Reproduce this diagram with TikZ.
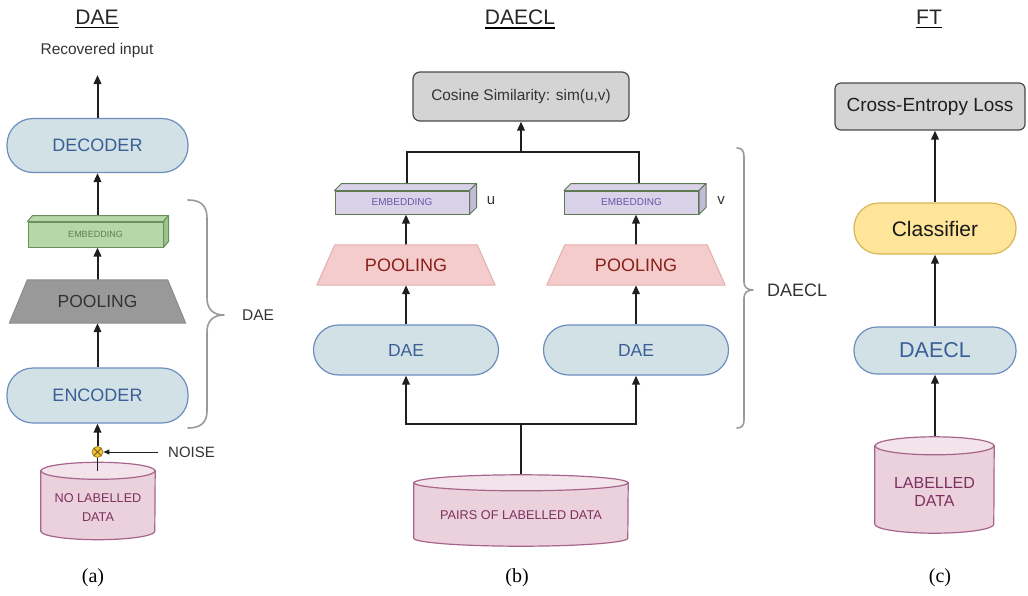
\documentclass[tikz,border=0pt]{standalone}
\usepackage{fontspec}
\setmainfont{Liberation Sans}
\newfontfamily\capfont{Liberation Serif}
\usetikzlibrary{arrows.meta,calc}
\pgfdeclarelayer{bg}
\pgfdeclarelayer{mid}
\pgfsetlayers{bg,mid,main}
\definecolor{arrowc}{HTML}{1F1F1F}
\definecolor{bluefill}{HTML}{D2E1E5}
\definecolor{blueborder}{HTML}{6C8EBF}
\definecolor{bluetext}{HTML}{3A5F96}
\definecolor{greenfill}{HTML}{B6D7A8}
\definecolor{greenside}{HTML}{9DC48C}
\definecolor{greenborder}{HTML}{6D8F5E}
\definecolor{greentext}{HTML}{5F7F52}
\definecolor{grayfill}{HTML}{999999}
\definecolor{grayborder}{HTML}{8C8C8C}
\definecolor{lavfill}{HTML}{D9D2E9}
\definecolor{lavside}{HTML}{C4BAD9}
\definecolor{lavborder}{HTML}{5E7A52}
\definecolor{lavtext}{HTML}{6757A6}
\definecolor{pinkfill}{HTML}{F4CCCC}
\definecolor{pinkborder}{HTML}{E2AFAF}
\definecolor{pinktext}{HTML}{8A1F1A}
\definecolor{cylfill}{HTML}{EAD1DC}
\definecolor{cyltop}{HTML}{F3E3EA}
\definecolor{cylborder}{HTML}{A8658B}
\definecolor{cyltext}{HTML}{7E3060}
\definecolor{boxfill}{HTML}{D4D4D4}
\definecolor{boxborder}{HTML}{4A4A4A}
\definecolor{yelfill}{HTML}{FFE599}
\definecolor{yelborder}{HTML}{D6B656}
\definecolor{txt}{HTML}{333333}
\definecolor{bracec}{HTML}{9A9A9A}
\definecolor{noisefill}{HTML}{F1C232}
\definecolor{noiseborder}{HTML}{A8862A}
\newcommand\fs[2]{\fontsize{#1}{#2}\selectfont}
% 3D faces of an embedding block: node, dx, dy, fill, side fill, border
\newcommand\threedfaces[6]{%
  \filldraw[fill=#4, draw=#6, line width=1pt, line join=round]
    (#1.north west) -- ++(#2,-#3) -- ($(#1.north east)+(#2,-#3)$) -- (#1.north east) -- cycle;
  \filldraw[fill=#5, draw=#6, line width=1pt, line join=round]
    (#1.north east) -- ++(#2,-#3) -- ($(#1.south east)+(#2,-#3)$) -- (#1.south east) -- cycle;}
% trapezoid around a node: node, inset, fill, border
\newcommand\trapez[4]{%
  \begin{pgfonlayer}{mid}
  \filldraw[fill=#3, draw=#4, line width=1pt, line join=round]
    (#1.south west) -- (#1.south east) -- ($(#1.north east)+(-#2,0)$) -- ($(#1.north west)+(#2,0)$) -- cycle;
  \end{pgfonlayer}}
% cylinder around a body node: node, rx, ry
\newcommand\cylshape[3]{%
  \begin{pgfonlayer}{mid}
  \filldraw[fill=cylfill, draw=cylborder, line width=1.2pt]
    (#1.north west) -- (#1.south west) arc[start angle=180, end angle=360, x radius=#2, y radius=#3] -- (#1.north east) -- cycle;
  \filldraw[fill=cyltop, draw=cylborder, line width=1.2pt] (#1.north) ellipse[x radius=#2, y radius=#3];
  \end{pgfonlayer}}
\begin{document}
\begin{tikzpicture}[x=1pt,y=-1pt,
  arr/.style={line width=2pt, draw=arrowc, -{Triangle[length=9pt,width=7.5pt]}},
  ln/.style={line width=2pt, draw=arrowc},
  pill/.style={draw=blueborder, fill=bluefill, line width=1.2pt, text=bluetext, inner sep=0pt, rounded corners=#1},
  pill/.default=26pt,
  lbl/.style={text=txt, inner sep=0pt},
  title/.style={text=black!85, inner sep=0pt, anchor=base, font=\fs{21}{24}},
  caption/.style={inner sep=0pt, font=\capfont\fs{20}{24}},
  emb/.style={line width=1pt, inner sep=0pt},
  plain/.style={inner sep=0pt},
  cyltxt/.style={text=cyltext, inner sep=0pt, align=center},
  bracestyle/.style={draw=bracec, line width=1.6pt, line cap=round, line join=round}]
\useasboundingbox (0,0) rectangle (1028,595);

%% ---------------- (a) DAE ----------------
\node[title] (tA) at (97,24.5) {DAE};
\draw[line width=1.2pt] ($(tA.south west)+(0,3)$) -- ($(tA.south east)+(0,3)$);
\node[lbl, font=\fs{15.5}{18}] (recov) at (97,50) {Recovered input};
\coordinate (recovTip) at (97.5,75);
\node[pill, minimum width=181pt, minimum height=54pt, font=\fs{18}{21}] (decA) at (97.5,145.5) {DECODER};
\node[emb, fill=greenfill, draw=greenborder, text=greentext, minimum width=135pt, minimum height=25pt, font=\fs{9}{10}] (embA) at (95.5,234.5) {EMBEDDING};
\threedfaces{embA}{5}{6}{greenfill}{greenside}{greenborder}
\node[plain, text=txt, minimum width=176pt, minimum height=43pt, font=\fs{17.5}{20}] (poolA) at (97.5,301.5) {POOLING};
\trapez{poolA}{18}{grayfill}{grayborder}
\node[pill, minimum width=181pt, minimum height=55pt, font=\fs{18}{21}] (encA) at (97.5,395.5) {ENCODER};
\node[plain, minimum width=114pt, minimum height=60pt] (cylA) at (98,501) {};
\cylshape{cylA}{57pt}{8.5pt}
\node[cyltxt, font=\fs{12.7}{19}] (cylAtext) at (98,507.5) {NO LABELLED\\DATA};
\node[circle, fill=noisefill, draw=noiseborder, line width=0.8pt, minimum size=11pt, inner sep=0pt] (nz) at (97.5,452) {};
\draw[noiseborder!70!black, line width=0.8pt, shorten <=0.6pt, shorten >=0.6pt] (nz.north west) -- (nz.south east);
\draw[noiseborder!70!black, line width=0.8pt, shorten <=0.6pt, shorten >=0.6pt] (nz.north east) -- (nz.south west);
\node[lbl, font=\fs{15}{18}, anchor=west] (noise) at (168,452) {NOISE};
\coordinate (cylAtop) at (97.5,471);
\draw[ln, line width=1.8pt] (cylAtop) -- (nz.south);
\draw[line width=0.9pt, draw=arrowc, -{Triangle[length=6pt,width=5pt]}] ($(noise.west)+(-10,0)$) -- (nz.east);
\begin{pgfonlayer}{bg}
\draw[arr] (nz.north) -- (encA.south);
\draw[arr] (encA.north) -- (poolA.north |- encA.north) -- (poolA.south);
\draw[arr] (poolA.north) -- (poolA.north |- embA.south);
\draw[arr] (decA.south |- embA.north) -- (decA.south);
\draw[arr] (decA.north) -- (recovTip);
\end{pgfonlayer}
\draw[bracestyle] (188,200) .. controls (200,200) and (207,205) .. (207,218) -- (207,298)
  .. controls (207,309) and (213,315) .. (224,315) .. controls (213,315) and (207,321) .. (207,332)
  -- (207,411) .. controls (207,423) and (200,428) .. (188,428);
\node[lbl, font=\fs{15.5}{18}, anchor=west] (braceAlbl) at (242,315) {DAE};
\node[caption] (capA) at (93,578) {(a)};

%% ---------------- (b) DAECL ----------------
\node[title] (tB) at (520,24.5) {DAECL};
\draw[line width=1.2pt] ($(tB.south west)+(0,3)$) -- ($(tB.south east)+(0,3)$);
\node[draw=boxborder, fill=boxfill, line width=1.2pt, rounded corners=7pt, text=txt, minimum width=216pt, minimum height=49pt, inner sep=0pt, font=\fs{15.4}{18}] (cos) at (521,96.5) {Cosine Similarity: sim(u,v)};
\coordinate (jB) at (521,152);
\node[emb, fill=lavfill, draw=lavborder, text=lavtext, minimum width=134pt, minimum height=23pt, font=\fs{10}{11}] (embL) at (402,202.5) {EMBEDDING};
\threedfaces{embL}{7}{7}{lavfill}{lavside}{lavborder}
\node[emb, fill=lavfill, draw=lavborder, text=lavtext, minimum width=134pt, minimum height=23pt, font=\fs{10}{11}] (embR) at (631.5,202.5) {EMBEDDING};
\threedfaces{embR}{7}{7}{lavfill}{lavside}{lavborder}
\node[lbl, font=\fs{15}{18}] (uLbl) at (491,201) {u};
\node[lbl, font=\fs{15}{18}] (vLbl) at (721,201) {v};
\node[plain, text=pinktext, minimum width=178pt, minimum height=40pt, font=\fs{18}{21}] (poolL) at (406,265) {POOLING};
\trapez{poolL}{18}{pinkfill}{pinkborder}
\node[plain, text=pinktext, minimum width=178pt, minimum height=40pt, font=\fs{18}{21}] (poolR) at (636,265) {POOLING};
\trapez{poolR}{18}{pinkfill}{pinkborder}
\node[pill=25pt, minimum width=185pt, minimum height=50pt, font=\fs{17.5}{20}] (daeL) at (406,350) {DAE};
\node[pill=25pt, minimum width=185pt, minimum height=50pt, font=\fs{17.5}{20}] (daeR) at (636,350) {DAE};
\node[plain, minimum width=214pt, minimum height=55pt] (cylB) at (521,510.5) {};
\cylshape{cylB}{107pt}{8pt}
\node[cyltxt, font=\fs{12.7}{15}] (cylBtext) at (521,515) {PAIRS OF LABELLED DATA};
\coordinate (cylBtop) at (521,475);
\coordinate (jB2) at (521,424);
\begin{pgfonlayer}{bg}
\draw[arr] (jB) -- (cos.south);
\draw[ln, line join=miter] ($(embL.north)+(5,-7)$) |- (jB) -| ($(embR.north)+(7.5,-7)$);
\draw[arr] (poolL.north) -- (poolL.north |- embL.south);
\draw[arr] (poolR.north) -- (poolR.north |- embR.south);
\draw[arr] (daeL.north) -- (poolL.south);
\draw[arr] (daeR.north) -- (poolR.south);
\draw[arr] (cylBtop) -- (jB2) -| (daeL.south);
\draw[arr] (jB2) -| (daeR.south);
\end{pgfonlayer}
\draw[bracestyle] (737,148) .. controls (742,148) and (744,151) .. (744,157) -- (744,282)
  .. controls (744,287) and (747,290) .. (753,290) .. controls (747,290) and (744,293) .. (744,298)
  -- (744,420) .. controls (744,425) and (742,428) .. (737,428);
\node[lbl, font=\fs{18}{21}, anchor=west] (braceBlbl) at (767,290) {DAECL};
\node[caption] (capB) at (517,578) {(b)};

%% ---------------- (c) FT ----------------
\node[title] (tC) at (929,24.5) {FT};
\draw[line width=1.2pt] ($(tC.south west)+(0,3)$) -- ($(tC.south east)+(0,3)$);
\node[draw=boxborder, fill=boxfill, line width=1.2pt, rounded corners=6pt, text=black!88, minimum width=190pt, minimum height=47pt, inner sep=0pt, font=\fs{19}{22}] (ce) at (930,106.5) {Cross-Entropy Loss};
\node[draw=yelborder, fill=yelfill, line width=1.2pt, rounded corners=25pt, text=black!90, minimum width=162pt, minimum height=51pt, inner sep=0pt, font=\fs{21}{24}] (cls) at (935,228.5) {Classifier};
\node[pill=23pt, minimum width=162pt, minimum height=47pt, font=\fs{21.5}{24}] (daecl) at (935,350.5) {DAECL};
\node[plain, minimum width=119pt, minimum height=78pt] (cylC) at (934.5,485) {};
\cylshape{cylC}{59.5pt}{9pt}
\node[cyltxt, font=\fs{16}{18.5}] (cylCtext) at (934.5,492) {LABELLED\\DATA};
\coordinate (cylCtop) at (935,437);
\begin{pgfonlayer}{bg}
\draw[arr] (cylCtop) -- (daecl.south);
\draw[arr] (daecl.north) -- (cls.south);
\draw[arr] (cls.north) -- (ce.south -| cls.north);
\end{pgfonlayer}
\node[caption] (capC) at (940,578) {(c)};
\end{tikzpicture}
\end{document}
